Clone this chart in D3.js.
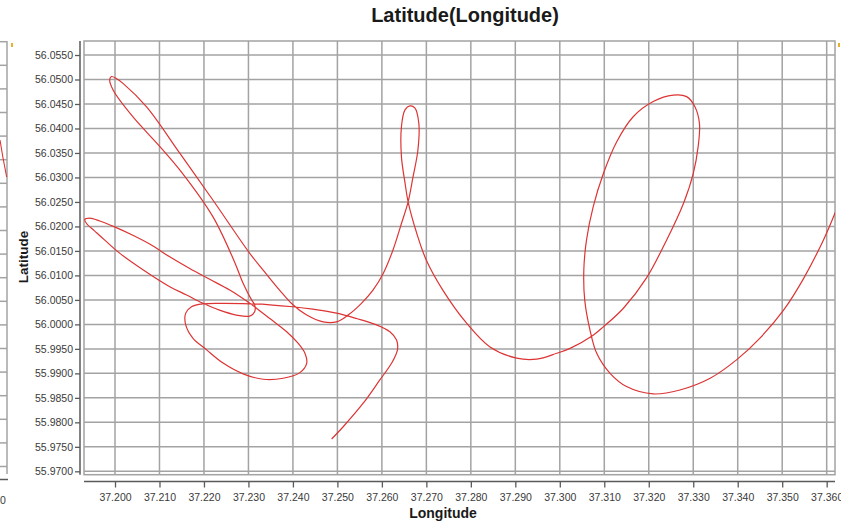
<!DOCTYPE html>
<html>
<head>
<meta charset="utf-8">
<script src="https://cdn.jsdelivr.net/npm/d3@7"></script>
<style>
  html, body { margin: 0; padding: 0; background: #fff; }
  svg { display: block; }
  text { font-family: "Liberation Sans", Arial, sans-serif; }
</style>
</head>
<body>
<svg id="chart" width="852" height="527"></svg>
<script>
// ---- data ----
const chartTitle = "Latitude(Longitude)";
const xTitle = "Longitude";
const yTitle = "Latitude";
const xDomain = [37.19303, 37.36187];
const yDomain = [55.96931, 56.05786];
const xTicks = [37.200, 37.210, 37.220, 37.230, 37.240, 37.250, 37.260, 37.270, 37.280,
                37.290, 37.300, 37.310, 37.320, 37.330, 37.340, 37.350, 37.360];
const yTicks = [55.9700, 55.9750, 55.9800, 55.9850, 55.9900, 55.9950, 56.0000, 56.0050,
                56.0100, 56.0150, 56.0200, 56.0250, 56.0300, 56.0350, 56.0400, 56.0450,
                56.0500, 56.0550];
const trackLon = [
  37.2487, 37.2513, 37.2558, 37.2595, 37.2622, 37.2635, 37.2633, 37.2618, 37.2588, 37.2543,
  37.2498, 37.2445, 37.2400, 37.2348, 37.2303, 37.2243, 37.2198, 37.2172, 37.2159, 37.2159,
  37.2175, 37.2206, 37.2243, 37.2288, 37.2333, 37.2378, 37.2415, 37.2431, 37.2427, 37.2412,
  37.2386, 37.2348, 37.2318, 37.2303, 37.2258, 37.2213, 37.2168, 37.2123, 37.2078, 37.2040,
  37.1999, 37.1966, 37.1943, 37.1932, 37.1936, 37.1954, 37.1977, 37.2011, 37.2067, 37.2123,
  37.2161, 37.2198, 37.2235, 37.2273, 37.2303, 37.2314, 37.2314, 37.2307, 37.2288, 37.2269,
  37.2220, 37.2146, 37.2101, 37.2040, 37.1996, 37.1988, 37.1992, 37.2003, 37.2018, 37.2071,
  37.2146, 37.2220, 37.2303, 37.2333, 37.2370, 37.2400, 37.2431, 37.2468, 37.2498, 37.2524,
  37.2554, 37.2580, 37.2603, 37.2625, 37.2644, 37.2659, 37.2670, 37.2681, 37.2683, 37.2674,
  37.2663, 37.2652, 37.2644, 37.2644, 37.2652, 37.2659, 37.2678, 37.2700, 37.2737, 37.2790,
  37.2843, 37.2903, 37.2948, 37.2993, 37.3023, 37.3075, 37.3098, 37.3143, 37.3195, 37.3240,
  37.3278, 37.3300, 37.3311, 37.3314, 37.3304, 37.3285, 37.3255, 37.3210, 37.3165, 37.3128,
  37.3098, 37.3075, 37.3060, 37.3054, 37.3056, 37.3068, 37.3083, 37.3113, 37.3150, 37.3210,
  37.3270, 37.3338, 37.3398, 37.3450, 37.3503, 37.3547, 37.3592, 37.3619, 37.3641
];
const trackLat = [
  55.9766, 55.9791, 55.9839, 55.9886, 55.9921, 55.9948, 55.9968, 55.9985, 55.9999, 56.0012,
  56.0023, 56.0031, 56.0036, 56.0040, 56.0042, 56.0043, 56.0042, 56.0036, 56.0023, 55.9999,
  55.9972, 55.9948, 55.9921, 55.9899, 55.9888, 55.9890, 55.9901, 55.9921, 55.9941, 55.9961,
  55.9985, 56.0012, 56.0033, 56.0043, 56.0070, 56.0092, 56.0114, 56.0138, 56.0164, 56.0182,
  56.0199, 56.0211, 56.0217, 56.0214, 56.0206, 56.0191, 56.0172, 56.0145, 56.0109, 56.0077,
  56.0060, 56.0043, 56.0029, 56.0019, 56.0017, 56.0026, 56.0040, 56.0050, 56.0084, 56.0127,
  56.0220, 56.0315, 56.0363, 56.0424, 56.0478, 56.0499, 56.0506, 56.0502, 56.0492, 56.0444,
  56.0349, 56.0254, 56.0145, 56.0111, 56.0070, 56.0040, 56.0019, 56.0005, 56.0005, 56.0019,
  56.0043, 56.0070, 56.0104, 56.0152, 56.0206, 56.0250, 56.0301, 56.0356, 56.0411, 56.0442,
  56.0446, 56.0438, 56.0404, 56.0342, 56.0289, 56.0250, 56.0187, 56.0131, 56.0070, 56.0003,
  55.9954, 55.9931, 55.9929, 55.9941, 55.9951, 55.9978, 55.9995, 56.0033, 56.0095, 56.0172,
  56.0247, 56.0308, 56.0363, 56.0410, 56.0444, 56.0465, 56.0468, 56.0455, 56.0424, 56.0373,
  56.0308, 56.0240, 56.0172, 56.0111, 56.0050, 55.9988, 55.9941, 55.9900, 55.9873, 55.9858,
  55.9866, 55.9890, 55.9928, 55.9972, 56.0029, 56.0092, 56.0171, 56.0228, 56.0281
];

// ---- layout ----
const plot = { left: 84, right: 835, top: 41, bottom: 474.7 };
const svg = d3.select("#chart");

const x = d3.scaleLinear().domain(xDomain).range([plot.left, plot.right]);
const y = d3.scaleLinear().domain(yDomain).range([plot.bottom, plot.top]);

const gridColor = "#a3a3a3";
const axisColor = "#5a5a5a";
const labelColor = "#3a3a3a";

// neighbour chart fragment at far left
const frag = svg.append("g");
frag.append("line").attr("x1", 7).attr("x2", 7).attr("y1", 41).attr("y2", 474)
  .attr("stroke", gridColor).attr("stroke-width", 1.5);
d3.range(0, 19).forEach(i => {
  const yy = 41.7 + i * 23.6;
  frag.append("line").attr("x1", 0).attr("x2", 7).attr("y1", yy).attr("y2", yy)
    .attr("stroke", gridColor).attr("stroke-width", 1.5);
});
frag.append("line").attr("x1", 0).attr("x2", 8).attr("y1", 479.5).attr("y2", 479.5)
  .attr("stroke", axisColor).attr("stroke-width", 1.5);
frag.append("text").attr("x", 0).attr("y", 504).attr("font-size", 10.5)
  .attr("fill", labelColor).text("0");
frag.append("path").attr("d", "M0,140 L3,158 L6.7,177").attr("fill", "none")
  .attr("stroke", "#dd3333").attr("stroke-width", 1.1);
svg.append("rect").attr("x", 11).attr("y", 43).attr("width", 2).attr("height", 4).attr("fill", "#e8b030");
svg.append("rect").attr("x", 838).attr("y", 43).attr("width", 2).attr("height", 4).attr("fill", "#e8b030");

// grid
const grid = svg.append("g");
grid.selectAll("line.gx").data(xTicks).join("line")
  .attr("x1", d => x(d)).attr("x2", d => x(d))
  .attr("y1", plot.top).attr("y2", plot.bottom)
  .attr("stroke", gridColor).attr("stroke-width", 1.5);
grid.selectAll("line.gy").data(yTicks).join("line")
  .attr("x1", plot.left).attr("x2", plot.right)
  .attr("y1", d => y(d)).attr("y2", d => y(d))
  .attr("stroke", gridColor).attr("stroke-width", 1.5);
grid.append("rect")
  .attr("x", plot.left).attr("y", plot.top)
  .attr("width", plot.right - plot.left).attr("height", plot.bottom - plot.top)
  .attr("fill", "none").attr("stroke", gridColor).attr("stroke-width", 1.5);

// track
svg.append("clipPath").attr("id", "plotClip").append("rect")
  .attr("x", plot.left).attr("y", plot.top)
  .attr("width", plot.right - plot.left).attr("height", plot.bottom - plot.top);
const pts = trackLon.map((lon, i) => [lon, trackLat[i]]);
const line = d3.line().x(d => x(d[0])).y(d => y(d[1])).curve(d3.curveCatmullRom.alpha(0.5));
svg.append("path").datum(pts)
  .attr("clip-path", "url(#plotClip)")
  .attr("d", line)
  .attr("fill", "none").attr("stroke", "#dd3434").attr("stroke-width", 1.2);

// y axis
const yAxis = svg.append("g").attr("transform", "translate(80,0)")
  .call(d3.axisLeft(y).tickValues(yTicks).tickFormat(d3.format(".4f")).tickSize(5).tickSizeOuter(0));
yAxis.select(".domain").attr("d", `M0,${plot.top}V${plot.bottom}`)
  .attr("stroke", axisColor).attr("stroke-width", 1.5);
yAxis.selectAll(".tick line").attr("stroke", axisColor).attr("stroke-width", 1.3);
yAxis.selectAll(".tick text").attr("font-size", 10.5).attr("fill", labelColor)
  .attr("font-family", "Liberation Sans, Arial, sans-serif").attr("x", -7);

// x axis
svg.append("clipPath").attr("id", "xLabClip").append("rect")
  .attr("x", 60).attr("y", 470).attr("width", 781).attr("height", 50);
const xClipG = svg.append("g").attr("clip-path", "url(#xLabClip)");
const xAxis = xClipG.append("g").attr("transform", "translate(0,481.5)")
  .call(d3.axisBottom(x).tickValues(xTicks).tickFormat(d3.format(".3f")).tickSize(6).tickSizeOuter(0));
xAxis.select(".domain").attr("d", `M${plot.left},0H${plot.right}`)
  .attr("stroke", axisColor).attr("stroke-width", 1.5);
xAxis.selectAll(".tick line").attr("stroke", axisColor).attr("stroke-width", 1.3);
xAxis.selectAll(".tick text").attr("font-size", 10.5).attr("fill", labelColor)
  .attr("font-family", "Liberation Sans, Arial, sans-serif").attr("y", 12);

// titles
svg.append("text").attr("x", 465).attr("y", 22).attr("text-anchor", "middle")
  .attr("font-size", 20).attr("font-weight", "bold").attr("fill", "#1a1a1a").text(chartTitle);
svg.append("text").attr("x", 443).attr("y", 518).attr("text-anchor", "middle")
  .attr("font-size", 14).attr("font-weight", "bold").attr("fill", "#1a1a1a").text(xTitle);
svg.append("text").attr("transform", "translate(28,257) rotate(-90)").attr("text-anchor", "middle")
  .attr("font-size", 13.5).attr("font-weight", "bold").attr("fill", "#1a1a1a").text(yTitle);
</script>
</body>
</html>
